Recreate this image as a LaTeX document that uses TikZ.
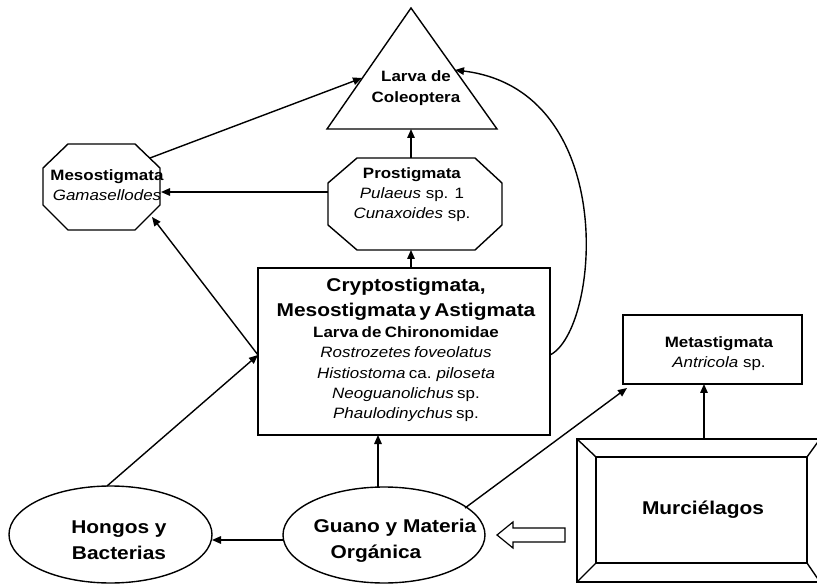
\documentclass[tikz,border=0pt]{standalone}
\usepackage{fontspec}
\setmainfont{Liberation Sans}[FakeStretch=1.13]
\usetikzlibrary{arrows.meta,shapes.geometric}
\setlength{\parindent}{0pt}
\begin{document}
\begin{tikzpicture}[x=1pt,y=-1pt,line width=1.4pt,
  tip/.style={-{Triangle[length=9pt,width=7.5pt]}},
  lbl/.style={align=center,inner sep=0pt},
  smallfont/.style={font=\fontsize{15}{20}\selectfont},
  bigfont/.style={font=\fontsize{18.5}{26}\selectfont\bfseries},
  oval/.style={draw,ellipse,inner sep=0pt}]
\useasboundingbox (0,0) rectangle (817,585);
\clip (0,0) rectangle (817,585);
% triangle
\coordinate (tA) at (411,8);
\coordinate (tL) at (327,129);
\coordinate (tR) at (497,129);
\draw (tA) -- (tL) -- (tR) -- cycle;
\node[lbl,font=\fontsize{15}{21}\selectfont\bfseries] (larva) at (416,88) {Larva de\\Coleoptera};
\coordinate (triBase) at (411,129);
\coordinate (triLeft) at (362,78);
\coordinate (triRight) at (455,70);
% Prostigmata octagon
\draw (357,158) -- (475,158) -- (502,183) -- (502,225) -- (475,250) -- (357,250) -- (328,225) -- (328,183) -- cycle;
\node[lbl,smallfont] (prost) at (412,195) {\textbf{Prostigmata}\\\textit{Pulaeus} sp. 1\\\textit{Cunaxoides} sp.};
\coordinate (prostTop) at (411,158);
\coordinate (prostBot) at (411,250);
\coordinate (prostLeft) at (328,192);
% Mesostigmata octagon
\draw (68,144) -- (135,144) -- (160,168) -- (160,205) -- (135,230) -- (68,230) -- (43,205) -- (43,168) -- cycle;
\node[lbl,smallfont] (meso) at (107,185) {\textbf{Mesostigmata}\\\textit{Gamasellodes}};
\coordinate (mesoRight) at (161,192);
\coordinate (mesoTR) at (150,158);
\coordinate (mesoBR) at (152,217);
% main box
\node[draw,minimum width=292pt,minimum height=167pt,inner sep=0pt] (mainbox) at (404,351.5) {};
\node[align=center,inner sep=0pt,text width=290pt] (maintext) at (406,350)
 {{\fontsize{18.5}{25}\selectfont\bfseries Cryptostigmata,\\Mesostigmata y Astigmata\par}
  {\fontsize{15}{21}\selectfont\bfseries Larva de Chironomidae\par}
  {\fontsize{15}{20.3}\selectfont\textit{Rostrozetes foveolatus}\\\textit{Histiostoma} ca. \textit{piloseta}\\\textit{Neoguanolichus} sp.\\\textit{Phaulodinychus} sp.\par}};
\coordinate (mainTop) at (411,268);
\coordinate (mainLeft) at (258,355);
\coordinate (mainRight) at (550,355);
\coordinate (mainBot) at (378,435);
% Metastigmata box
\node[draw,minimum width=179pt,minimum height=69pt,inner sep=0pt] (meta) at (712.5,349.5) {};
\node[lbl,smallfont] (metatext) at (719,354) {\textbf{Metastigmata}\\\textit{Antricola} sp.};
\coordinate (metaBL) at (627,388);
\coordinate (metaBot) at (704,384);
% Murcielagos bevel box
\draw (577,439) rectangle (820,582);
\draw (596,457) rectangle (807,563);
\draw (577,439) -- (596,457);
\draw (820,439) -- (807,457);
\draw (577,582) -- (596,563);
\draw (820,582) -- (807,563);
\node[bigfont,inner sep=0pt] (murc) at (703,510) {Murciélagos};
\coordinate (murcTop) at (704,439);
% ellipses
\node[oval,minimum width=203pt,minimum height=97pt] (hongos) at (110.5,534.5) {};
\node[lbl,bigfont] (hongostext) at (119,540) {Hongos y\\Bacterias};
\node[oval,minimum width=202pt,minimum height=96pt] (guano) at (384,535) {};
\node[lbl,bigfont] (guanotext) at (385,540.5) {\hspace*{20pt}Guano y Materia\\Orgánica\hspace*{18pt}};
\coordinate (hongosTop) at (107,486);
\coordinate (hongosRight) at (212,540);
\coordinate (guanoLeft) at (283,540);
\coordinate (guanoTop) at (378,487);
\coordinate (guanoNE) at (465,508);
% hollow block arrow
\draw[line width=1.2pt] (497,535) -- (513,522) -- (513,528) -- (565,528) -- (565,542) -- (513,542) -- (513,548) -- cycle;
% connectors
\draw[tip] (guanoTop) -- (mainBot);
\draw[tip] (guanoLeft) -- (hongosRight);
\draw[tip] (hongosTop) -- (mainLeft);
\draw[tip] (mainLeft) -- (mesoBR);
\draw[tip] (mainTop) -- (prostBot);
\draw[tip] (prostTop) -- (triBase);
\draw[tip] (prostLeft) -- (mesoRight);
\draw[tip] (mesoTR) -- (triLeft);
\draw[tip] (mainRight) .. controls (600,330) and (620,90) .. (triRight);
\draw[tip] (guanoNE) -- (metaBL);
\draw[tip] (murcTop) -- (metaBot);
\end{tikzpicture}
\end{document}
